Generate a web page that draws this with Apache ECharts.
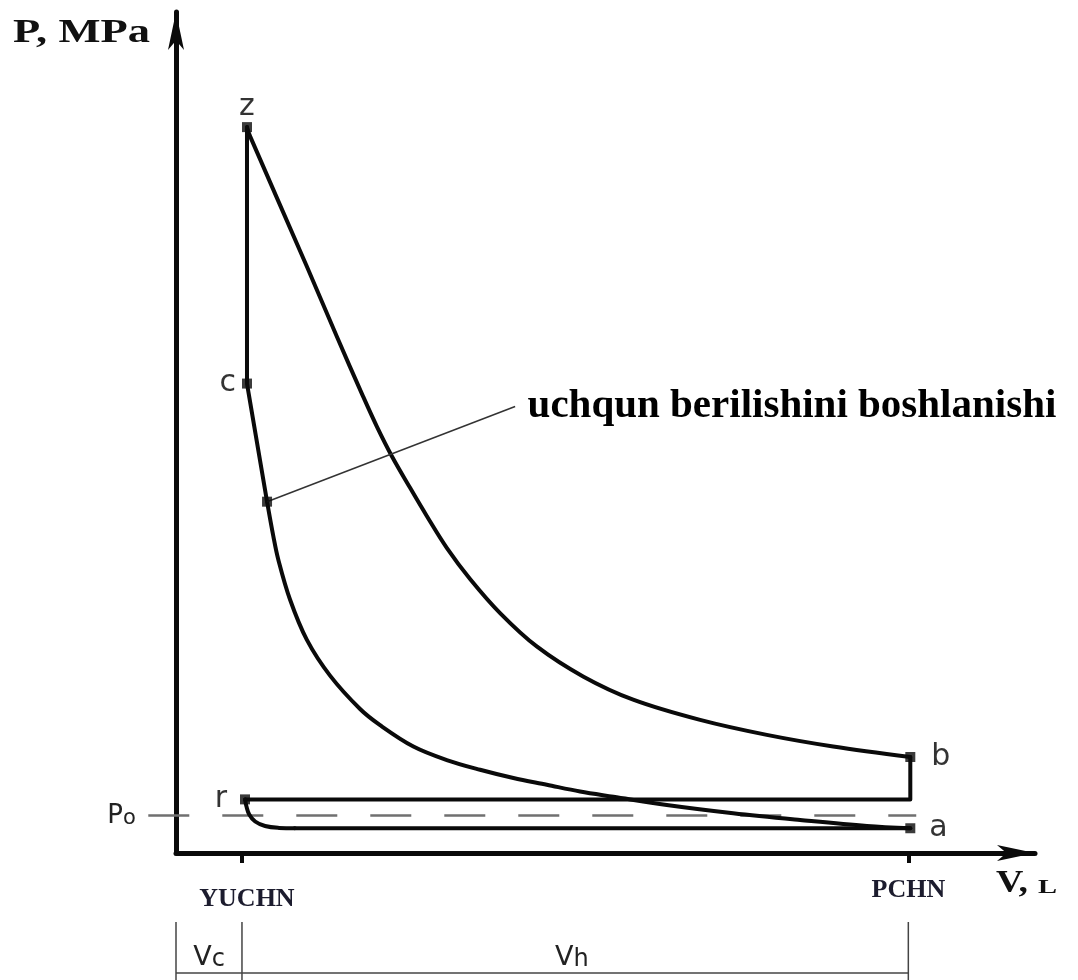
<!DOCTYPE html>
<html><head><meta charset="utf-8">
<style>html,body{margin:0;padding:0;background:#fff}#c{width:1078px;height:980px}</style>
<script src="https://cdn.jsdelivr.net/npm/echarts@6.0.0/dist/echarts.min.js"></script>
</head><body><div id="c"></div>
<script>
// ---- data (V in units of Vc, P in MPa) ----
const V_EXP = [1.076, 1.122, 1.982, 2.436, 2.835, 3.043, 3.270, 3.548, 3.801, 4.104, 4.457, 4.912, 5.468, 6.170, 6.929, 7.944, 8.955, 9.961, 11.13];
const P_EXP = [1.936, 1.912, 1.565, 1.378, 1.218, 1.138, 1.059, 0.974, 0.899, 0.814, 0.731, 0.640, 0.551, 0.471, 0.409, 0.355, 0.315, 0.284, 0.256];
const V_CMP = [1.380, 1.475, 1.551, 1.728, 1.982, 2.335, 2.790, 3.093, 3.598, 4.104, 4.609, 5.114, 5.620, 6.125, 6.630, 7.439, 8.445, 9.460, 10.472, 11.13];
const P_CMP = [0.937, 0.845, 0.782, 0.676, 0.569, 0.473, 0.384, 0.341, 0.284, 0.248, 0.222, 0.200, 0.182, 0.164, 0.150, 0.128, 0.106, 0.088, 0.072, 0.066];
const V_CMB = [1.380, 1.076, 1.076];
const P_CMB = [0.937, 1.252, 1.936];
const V_EXH = [11.13, 11.13, 1.046];
const P_EXH = [0.256, 0.143, 0.143];
const V_INT = [1.046, 1.068, 1.110, 1.200, 1.350, 1.560, 1.800];
const P_INT = [0.143, 0.124, 0.103, 0.084, 0.072, 0.067, 0.066];
const V_INT_LINE = [1.800, 11.13];
const P_INT_LINE = [0.066, 0.066];
const PT_NAMES = ['z', 'c', '', 'r', 'b', 'a'];
const PT_V = [1.076, 1.076, 1.380, 1.046, 11.13, 11.13];
const PT_P = [1.936, 1.252, 0.937, 0.143, 0.256, 0.066];
const P0 = 0.1;
const P0_V = [-0.42, 11.22];
const ANNOT_V = [1.380, 5.14];
const ANNOT_P = [0.937, 1.191];
const ANNOT_TEXT = 'uchqun berilishini boshlanishi';
const X_TICKS = [1, 11.1];
const X_TICK_LABELS = ['YUCHN', 'PCHN'];
const DIM_V = [0, 1, 11.1];
const DIM_TOP = -0.184, DIM_BOTTOM = -0.38, DIM_LINE = -0.32, DIM_LABEL = -0.276;
const DIM_LABEL_V = [0.5, 6.0];
const DIM_LABELS = ['c', 'h'];
const X_MAX = 13.02, Y_MAX = 2.243;
// second (hidden) horizontal axis with the same scale, extended left of the P axis
const X2_MIN = -2.6677;

const pairs = (xs, ys) => xs.map((x, i) => [x, ys[i]]);
const INK = '#0a0a0a';
const serif = '"Liberation Serif", "Times New Roman", serif';
const sans = '"DejaVu Sans", sans-serif';

function lineSeries(data, smooth, style) {
  return {
    type: 'line', data, smooth, symbol: 'none', clip: false, silent: true, animation: false,
    lineStyle: Object.assign({ color: INK, width: 4, cap: 'round', join: 'round' }, style || {}), z: 3
  };
}
function textPoints(items, z) {
  return {
    type: 'scatter', silent: true, clip: false, symbol: 'circle', symbolSize: 1, z: z || 6,
    itemStyle: { color: '#ffffff', opacity: 1 }, data: items
  };
}

const labelPos = {
  z: { position: 'top', distance: 0 },
  c: { position: 'left', distance: 6 },
  r: { position: 'left', distance: 13 },
  b: { position: 'right', distance: 16 },
  a: { position: 'right', distance: 14 }
};

const markers = PT_V.map((v, i) => {
  const n = PT_NAMES[i];
  const item = { value: [v, PT_P[i]] };
  if (n) item.label = Object.assign({ show: true, formatter: n }, labelPos[n]);
  return item;
});

const dimSeries = DIM_V.map(v => lineSeries([[v, DIM_TOP], [v, DIM_BOTTOM]], false, { width: 1.5, color: '#444', cap: 'butt' }));
dimSeries.push(lineSeries([[DIM_V[0], DIM_LINE], [DIM_V[2], DIM_LINE]], false, { width: 1.5, color: '#444', cap: 'butt' }));

const chart = echarts.init(document.getElementById('c'), null, { renderer: 'canvas' });
chart.setOption({
  animation: false,
  backgroundColor: '#fff',
  grid: [
    { left: 176, right: 43, top: 12, bottom: 127, containLabel: false, outerBoundsMode: 'none' },
    { left: 0, right: 43, top: 12, bottom: 127, containLabel: false, outerBoundsMode: 'none' }
  ],
  xAxis: [{
    type: 'value', min: 0, max: X_MAX, gridIndex: 0,
    axisLine: { show: true, onZero: false, symbol: ['none', 'arrow'], symbolSize: [12, 38], lineStyle: { color: INK, width: 5 } },
    axisTick: { show: true, customValues: X_TICKS, length: 10, lineStyle: { color: INK, width: 4 } },
    axisLabel: {
      show: true, customValues: X_TICKS, margin: 24,
      formatter: v => (v === X_TICKS[0] ? '{y|' : '{p|') + (X_TICK_LABELS[X_TICKS.indexOf(v)] || '') + '}',
      rich: {
        y: { fontFamily: serif, fontWeight: 'bold', fontSize: 26, color: '#1c1c2e', padding: [9, 0, 0, 10] },
        p: { fontFamily: serif, fontWeight: 'bold', fontSize: 26, color: '#1c1c2e' }
      }
    },
    splitLine: { show: false }
  }, {
    type: 'value', min: X2_MIN, max: X_MAX, gridIndex: 1, show: false
  }],
  yAxis: [{
    type: 'value', min: 0, max: Y_MAX, gridIndex: 0,
    axisLine: { show: true, onZero: false, symbol: ['none', 'arrow'], symbolSize: [12, 38], lineStyle: { color: INK, width: 5 } },
    axisTick: { show: false }, axisLabel: { show: false }, splitLine: { show: false }
  }, {
    type: 'value', min: 0, max: Y_MAX, gridIndex: 1, show: false
  }],
  graphic: [
    { type: 'text', x: 13, y: 33, scaleX: 1.31, style: { text: 'P, MPa', font: 'bold 34px ' + serif, fill: '#111', verticalAlign: 'middle' } },
    { type: 'text', x: 996, y: 884, scaleX: 1.22, style: { text: 'V,', font: 'bold 31px ' + serif, fill: '#111', verticalAlign: 'middle' } },
    { type: 'text', x: 1038, y: 888, scaleX: 1.5, style: { text: 'L', font: 'bold 19px ' + serif, fill: '#111', verticalAlign: 'middle' } }
  ],
  series: [
    lineSeries(pairs(V_EXP, P_EXP), 0.35),
    lineSeries(pairs(V_CMP, P_CMP), 0.35),
    lineSeries(pairs(V_CMB, P_CMB), false),
    lineSeries(pairs(V_EXH, P_EXH), false),
    lineSeries(pairs(V_INT, P_INT), 0.4),
    lineSeries(pairs(V_INT_LINE, P_INT_LINE), false),
    // atmospheric pressure line (on the extended hidden axis pair)
    Object.assign(lineSeries(pairs(P0_V, [P0, P0]), false, { color: '#707070', width: 2.5, type: [41, 33], cap: 'butt' }), { z: 2, xAxisIndex: 1, yAxisIndex: 1 }),
    Object.assign(textPoints([{ value: [P0_V[0], P0], label: { show: true, position: 'left', distance: 12, formatter: '{p|P}{o|o}', color: '#222',
      rich: { p: { fontFamily: sans, fontSize: 26, color: '#222', verticalAlign: 'bottom', lineHeight: 28 }, o: { fontFamily: sans, fontSize: 21, color: '#222', verticalAlign: 'bottom', lineHeight: 26 } } } }], 1), { xAxisIndex: 1, yAxisIndex: 1 }),
    // annotation leader line + text
    lineSeries(pairs(ANNOT_V, ANNOT_P), false, { width: 1.5, color: '#333', cap: 'butt' }),
    textPoints([{ value: [ANNOT_V[1], ANNOT_P[1]], label: { show: true, position: 'right', distance: 12, formatter: ANNOT_TEXT, fontFamily: serif, fontWeight: 'bold', fontSize: 41, color: '#000', opacity: 1 } }], 1),
    ...dimSeries,
    textPoints(DIM_LABEL_V.map((v, i) => ({ value: [v, DIM_LABEL], label: { show: true, position: 'inside', formatter: '{v|V}{s|' + DIM_LABELS[i] + '}', color: '#222',
      rich: { v: { fontFamily: sans, fontSize: 27, color: '#222', verticalAlign: 'bottom', lineHeight: 30 }, s: { fontFamily: sans, fontSize: 24, color: '#222', verticalAlign: 'bottom', lineHeight: 28 } } } })), 1),
    {
      type: 'scatter', silent: true, clip: false, symbol: 'rect', symbolSize: 10, z: 5,
      itemStyle: { color: INK },
      label: { fontFamily: sans, fontSize: 30, color: '#000' },
      data: markers
    }
  ]
});
</script></body></html>
